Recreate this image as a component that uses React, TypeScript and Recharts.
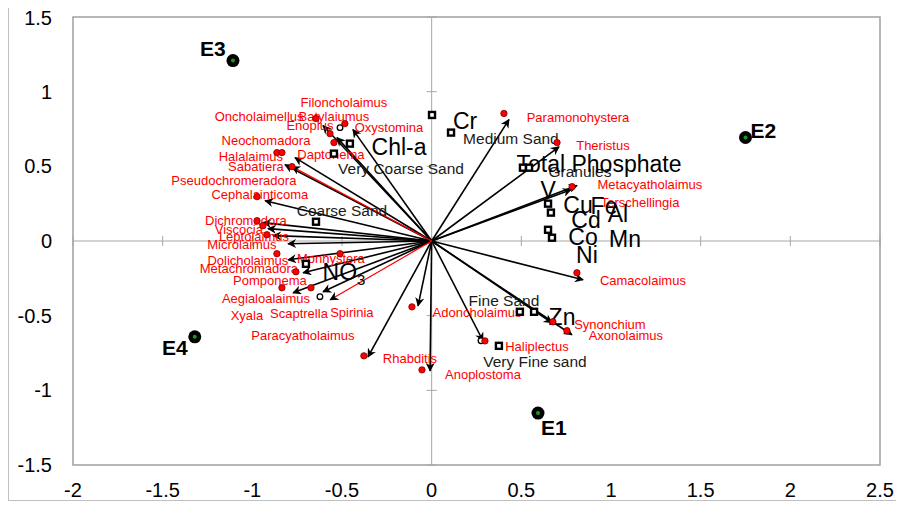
import React from 'react';
import { ComposedChart, Scatter, XAxis, YAxis, ReferenceLine, ReferenceArea } from 'recharts';

// axis ticks
const xTicks = [-2, -1.5, -1, -0.5, 0, 0.5, 1, 1.5, 2, 2.5];
const yTicks = [-1.5, -1, -0.5, 0, 0.5, 1, 1.5];

// sampling sites
const siteNames = ['E1', 'E2', 'E3', 'E4'];
const siteX = [0.593, 1.75, -1.108, -1.321];
const siteY = [-1.152, 0.693, 1.208, -0.642];
const siteLabelX = [0.681, 1.85, -1.22, -1.432];
const siteLabelY = [-1.252, 0.74, 1.29, -0.715];

// species vectors (black arrows) and the two red ones
const arrowX = [-0.606, -0.528, -0.439, -0.762, -0.818, -0.929, -0.94, -0.913, -0.885, -0.801, -0.801, -0.717, -0.773, -0.606, -0.076, -0.355, -0.009, 0.286, 0.671, 0.782, 0.844, 0.431, 0.71, 0.81, 0.777];
const arrowY = [0.773, 0.692, 0.746, 0.558, 0.511, 0.27, 0.123, 0.083, 0.036, -0.018, -0.126, -0.213, -0.347, -0.34, -0.434, -0.776, -0.87, -0.668, -0.548, -0.628, -0.26, 0.813, 0.631, 0.371, 0.344];
const redArrowX = [-0.779, -0.566];
const redArrowY = [0.498, -0.394];

// species
const speciesNames = ['Oncholaimellus', 'Filoncholaimus', 'Batylaiumus', 'Enoplus', 'Oxystomina', 'Neochomadora', 'Daptonema', 'Halalaimus', 'Sabatiera', 'Pseudochromeradora', 'Cephalainticoma', 'Dichromadora', 'Viscocia', 'Leptolaimus', 'Microlaimus', 'Dolicholaimus', 'Monhystera', 'Metachromadora', 'Pomponema', 'Aegialoalaimus', 'Xyala', 'Scaptrella', 'Spirinia', 'Paracyatholaimus', 'Rhabditis', 'Anoplostoma', 'Adoncholaimus', 'Haliplectus', 'Paramonohystera', 'Theristus', 'Metacyatholaimus', 'Terschellingia', 'Camacolaimus', 'Synonchium', 'Axonolaimus'];
const speciesLabelX = [-0.962, -0.489, -0.545, -0.679, -0.238, -0.924, -0.562, -1.008, -0.98, -1.103, -0.958, -1.036, -1.075, -0.991, -1.058, -1.025, -0.562, -1.019, -0.902, -0.924, -1.03, -0.74, -0.445, -0.718, -0.121, 0.286, 0.253, 0.587, 0.816, 0.955, 1.217, 1.162, 1.178, 0.994, 1.083];
const speciesLabelY = [0.833, 0.927, 0.833, 0.773, 0.76, 0.672, 0.579, 0.565, 0.498, 0.404, 0.31, 0.136, 0.075, 0.029, -0.025, -0.132, -0.119, -0.186, -0.266, -0.387, -0.501, -0.487, -0.48, -0.635, -0.789, -0.896, -0.481, -0.709, 0.826, 0.639, 0.377, 0.257, -0.266, -0.561, -0.635];
const speciesDotX = [-0.645, -0.484, -0.567, -0.545, -0.863, -0.835, -0.779, -0.974, -0.974, -0.941, -0.919, -0.863, -0.511, -0.757, -0.835, -0.673, -0.378, -0.054, -0.11, 0.297, 0.403, 0.699, 0.783, 0.81, 0.676, 0.754];
const speciesDotY = [0.82, 0.786, 0.719, 0.659, 0.592, 0.592, 0.498, 0.297, 0.136, 0.102, 0.042, -0.085, -0.085, -0.206, -0.313, -0.313, -0.769, -0.863, -0.441, -0.669, 0.854, 0.659, 0.364, -0.213, -0.541, -0.601];

// environmental variables
const envSquareX = [0.002, 0.108, -0.456, -0.545, -0.645, 0.509, 0.543, 0.649, 0.665, 0.649, 0.671, -0.701, 0.492, 0.571, 0.375];
const envSquareY = [0.844, 0.726, 0.652, 0.585, 0.129, 0.491, 0.491, 0.25, 0.19, 0.075, 0.022, -0.153, -0.474, -0.474, -0.702];
const envBigNames = ['Cr', 'Chl-a', 'Total Phosphate', 'V', 'Cu', 'Fe', 'Al', 'Cd', 'Co', 'Mn', 'Ni', 'NO', 'Zn'];
const envBigX = [0.186, -0.182, 0.933, 0.649, 0.816, 0.961, 1.039, 0.861, 0.844, 1.078, 0.866, -0.489, 0.727];
const envBigY = [0.806, 0.632, 0.518, 0.344, 0.243, 0.237, 0.183, 0.143, 0.029, 0.015, -0.092, -0.206, -0.507];
const envSmallNames = ['Medium Sand', 'Very Coarse Sand', 'Coarse Sand', 'Granules', 'Fine Sand', 'Very Fine sand'];
const envSmallX = [0.442, -0.171, -0.5, 0.827, 0.403, 0.576];
const envSmallY = [0.686, 0.484, 0.203, 0.464, -0.4, -0.809];

// small open circles
const openX = [-0.511, 0.275, -0.623];
const openY = [0.759, -0.668, -0.373];

const FONT = '"Liberation Sans", Arial, sans-serif';
const tickHalfX = 0.028;
const tickHalfY = 0.034;

const toPoints = (xs: number[], ys: number[], names?: string[]) =>
  xs.map((x, i) => ({ x, y: ys[i], name: names ? names[i] : '' }));

const sites = toPoints(siteX, siteY, siteNames);
const siteLabels = toPoints(siteLabelX, siteLabelY, siteNames);
const speciesLabels = toPoints(speciesLabelX, speciesLabelY, speciesNames);
const speciesDots = toPoints(speciesDotX, speciesDotY);
const envSquares = toPoints(envSquareX, envSquareY);
const envBig = toPoints(envBigX, envBigY, envBigNames);
const envSmall = toPoints(envSmallX, envSmallY, envSmallNames);
const openDots = toPoints(openX, openY);

const textShape = (size: number, color: string, weight: string = 'normal') => (p: any) => (
  <text x={p.cx} y={p.cy} textAnchor="middle" dominantBaseline="central" fontSize={size} fill={color} fontWeight={weight} fontFamily={FONT}>
    {p.payload.name}
    {p.payload.name === 'NO' ? <tspan fontSize={15} dy={7}>3</tspan> : null}
  </text>
);

export default function App() {
  return (
    <div style={{ width: 890, height: 494, marginTop: -3, border: '1px solid #c0c0c0', fontFamily: FONT }}>
      <svg width={0} height={0} style={{ position: 'absolute' }}>
        <defs>
          <marker id="arrowHead" viewBox="0 0 10 10" refX={9} refY={5} markerWidth={11} markerHeight={9} markerUnits="userSpaceOnUse" orient="auto">
            <path d="M0,0 L10,5 L0,10 L3,5 z" fill="#000" />
          </marker>
        </defs>
      </svg>
      <ComposedChart width={888} height={500} margin={{ top: 11, right: 17, left: 0, bottom: 11 }}>
        <XAxis type="number" dataKey="x" domain={[-2, 2.5]} ticks={xTicks} allowDataOverflow
          axisLine={false} tickLine={false} tickSize={0} tickMargin={18} height={30}
          tick={{ fontSize: 20, fill: '#000', fontFamily: FONT }} />
        <YAxis type="number" dataKey="y" domain={[-1.5, 1.5]} ticks={yTicks} allowDataOverflow
          axisLine={false} tickLine={false} tickSize={0} tickMargin={21} width={64}
          tick={{ fontSize: 20, fill: '#000', fontFamily: FONT }} />
        <ReferenceArea x1={-2} x2={2.5} y1={-1.5} y2={1.5} fill="none" stroke="#a0a0a0" strokeWidth={1.5} ifOverflow="visible" />
        <ReferenceLine x={0} stroke="#a6a6a6" strokeWidth={1} />
        <ReferenceLine y={0} stroke="#a6a6a6" strokeWidth={1} />
        {xTicks.map((t) => (
          <ReferenceLine key={'xt' + t} segment={[{ x: t, y: -tickHalfY }, { x: t, y: tickHalfY }]} stroke="#a6a6a6" strokeWidth={1} ifOverflow="visible" />
        ))}
        {yTicks.map((t) => (
          <ReferenceLine key={'yt' + t} segment={[{ x: -tickHalfX, y: t }, { x: tickHalfX, y: t }]} stroke="#a6a6a6" strokeWidth={1} ifOverflow="visible" />
        ))}
        {arrowX.map((x, i) => (
          <ReferenceLine key={'a' + i} segment={[{ x: 0, y: 0 }, { x, y: arrowY[i] }]} stroke="#000" strokeWidth={1.6} markerEnd="url(#arrowHead)" ifOverflow="visible" />
        ))}
        {redArrowX.map((x, i) => (
          <ReferenceLine key={'r' + i} segment={[{ x: 0, y: 0 }, { x, y: redArrowY[i] }]} stroke="#ff0000" strokeWidth={1.2} markerEnd="url(#arrowHead)" ifOverflow="visible" />
        ))}
        <Scatter data={speciesLabels} isAnimationActive={false} shape={textShape(13, '#ff0000')} />
        <Scatter data={envSmall} isAnimationActive={false} shape={textShape(15.5, '#1a1a1a')} />
        <Scatter data={envBig} isAnimationActive={false} shape={textShape(23, '#000')} />
        <Scatter data={siteLabels} isAnimationActive={false} shape={textShape(21, '#000', 'bold')} />
        <Scatter data={envSquares} isAnimationActive={false}
          shape={(p: any) => <rect x={p.cx - 3} y={p.cy - 3} width={6} height={6} fill="#fff" stroke="#000" strokeWidth={2.4} />} />
        <Scatter data={openDots} isAnimationActive={false}
          shape={(p: any) => <circle cx={p.cx} cy={p.cy} r={2.8} fill="#fff" stroke="#000" strokeWidth={1.3} />} />
        <Scatter data={speciesDots} isAnimationActive={false}
          shape={(p: any) => <circle cx={p.cx} cy={p.cy} r={3.2} fill="#ff0000" stroke="#700" strokeWidth={0.8} />} />
        <Scatter data={sites} isAnimationActive={false}
          shape={(p: any) => (
            <g>
              <circle cx={p.cx} cy={p.cy} r={6.5} fill="#000" />
              <circle cx={p.cx} cy={p.cy} r={2} fill="#1a9a1a" />
            </g>
          )} />
      </ComposedChart>
    </div>
  );
}
